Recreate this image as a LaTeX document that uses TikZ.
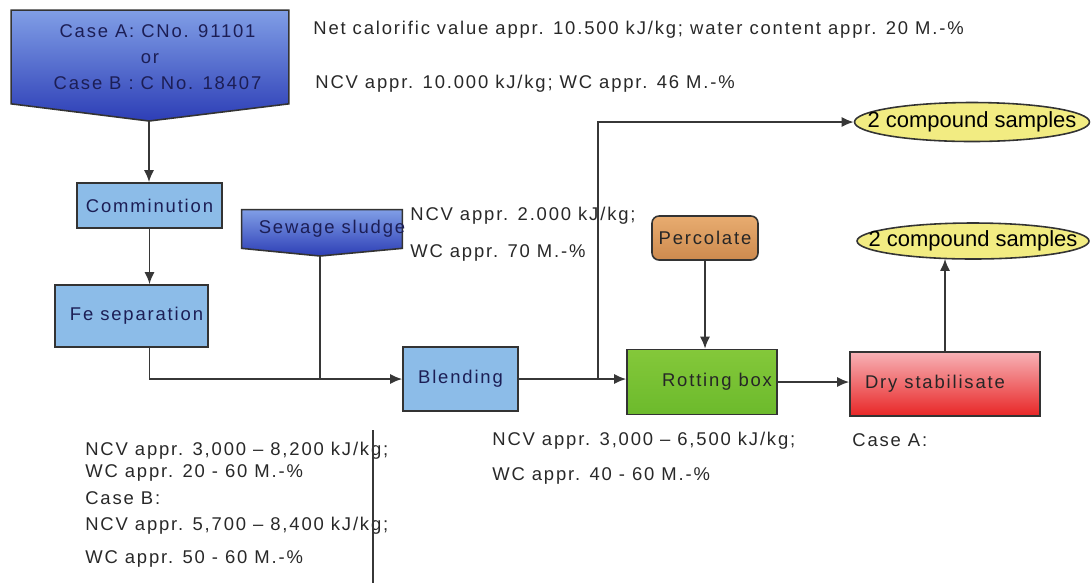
\documentclass[tikz,border=0pt]{standalone}
\usepackage{fontspec}
\setmainfont{Liberation Sans}
\newfontfamily\spacedfont[LetterSpace=10]{Liberation Sans}
\usetikzlibrary{arrows.meta,calc,positioning,shapes.geometric,backgrounds}
\definecolor{bannertop}{RGB}{128,158,230}
\definecolor{bannerbot}{RGB}{45,62,182}
\definecolor{navytext}{RGB}{28,30,85}
\definecolor{procblue}{RGB}{140,188,232}
\definecolor{rottop}{RGB}{132,200,58}
\definecolor{rotbot}{RGB}{108,186,44}
\definecolor{perctop}{RGB}{232,172,112}
\definecolor{percbot}{RGB}{205,138,78}
\definecolor{sampyellow}{RGB}{242,236,130}
\definecolor{drytop}{RGB}{247,178,182}
\definecolor{drybot}{RGB}{232,38,38}
\definecolor{wiregray}{RGB}{55,55,55}
\definecolor{labgray}{RGB}{40,40,40}
\tikzset{
  wire/.style={wiregray, line width=1pt},
  flow/.style={wire, -{Latex[length=2.4mm,width=2mm]}},
  outline/.style={draw=black!80, line width=0.9pt},
  banner/.style={inner sep=2pt, align=center, text=navytext,
                 font=\spacedfont\fontsize{10.5}{15}\selectfont},
  bannerfill/.style={outline, top color=bannertop, bottom color=bannerbot},
  process/.style={outline, fill=procblue, inner sep=2pt, align=center,
                  text=navytext, font=\spacedfont\fontsize{10.5}{13}\selectfont},
  rotbox/.style={process, fill=none, top color=rottop, bottom color=rotbot,
                 text=black!85},
  percbox/.style={process, fill=none, top color=perctop, bottom color=percbot,
                  rounded corners=4pt, text=black!85},
  drybox/.style={process, fill=none, top color=drytop, bottom color=drybot,
                 text=black!85},
  sample/.style={ellipse, outline, fill=sampyellow, inner sep=0pt,
                 font=\fontsize{12.5}{14}\selectfont},
  lab/.style={anchor=west, align=left, inner sep=0pt, text=labgray,
              font=\spacedfont\fontsize{10.5}{15}\selectfont},
}

\begin{document}
\begin{tikzpicture}[x=0.02cm,y=-0.02cm]
  \path[use as bounding box] (0,0) rectangle (1091,583);

  % sources
  \node[banner, minimum width=5.54cm, minimum height=1.86cm] (src) at (150,57)
    {\hspace*{3mm}Case A: CNo. 91101\\or\\\hspace*{3mm}Case B : C No. 18407};
  \coordinate (srctip) at (149,121);
  \node[banner, minimum width=3.2cm, minimum height=0.76cm] (sludge) at (322,229)
    {\makebox[0pt]{\hspace*{4mm}Sewage sludge}};
  \coordinate (sludgetip) at (320,256);
  \begin{scope}[on background layer]
    \path[bannerfill] (src.north west) -- (src.north east) -- (src.south east)
      -- (srctip) -- (src.south west) -- cycle;
    \path[bannerfill] (sludge.north west) -- (sludge.north east) -- (sludge.south east)
      -- (sludgetip) -- (sludge.south west) -- cycle;
  \end{scope}

  % process chain
  \node[process, minimum width=2.9cm, minimum height=0.9cm] (comm) at (149.5,205.5) {Comminution};
  \node[process, minimum width=3.06cm, minimum height=1.24cm] (fesep) at (131.5,316)
    {\hspace*{2mm}Fe separation};
  \node[process, minimum width=2.3cm, minimum height=1.28cm] (blend) at (460.5,379) {Blending};
  \node[rotbox, minimum width=3cm, minimum height=1.3cm] (rot) at (702,382)
    {\hspace*{6mm}Rotting box};
  \node[percbox, minimum width=2.12cm, minimum height=0.88cm] (perc) at (705,238) {Percolate};
  \node[drybox, minimum width=3.8cm, minimum height=1.28cm] (dry) at (945,384)
    {Dry stabilisate\hspace*{4mm}};
  \node[sample, minimum width=4.7cm, minimum height=0.78cm] (samp1) at (972,122)
    {\makebox[0pt]{2 compound samples}};
  \node[sample, minimum width=4.64cm, minimum height=0.72cm] (samp2) at (973,241)
    {\makebox[0pt]{2 compound samples}};

  \draw[flow] (srctip) -- (srctip |- comm.north);
  \draw[flow] (comm.south) -- (comm.south |- fesep.north);
  \draw[flow] (comm.south |- fesep.south) |- (blend.west);
  \draw[wire] (sludgetip) -- (sludgetip |- blend.west);
  \draw[flow] (blend.east) -- (blend.east -| rot.west);
  \coordinate (split) at (598,379);
  \draw[flow] (split) |- (samp1.west);
  \draw[flow] (perc.south) -- (perc.south |- rot.north);
  \draw[flow] (rot.east) -- (rot.east -| dry.west);
  \draw[flow] (dry.north) -- ($(dry.north |- samp2.south)+(0,-1)$);

  % property notes
  \node[lab] (ncvtop) at (313,30)
    {Net calorific value appr. 10.500 kJ/kg; water content appr. 20 M.-\%};
  \node[lab] (ncvb) at (315,84) {NCV appr. 10.000 kJ/kg; WC appr. 46 M.-\%};
  \node[lab] (ncvsludge) at (410,234)
    {NCV appr. 2.000 kJ/kg;\\[6pt]WC appr. 70 M.-\%};
  \node[lab] (ncvrot) at (492,458)
    {NCV appr. 3,000 – 6,500 kJ/kg;\\[5pt]WC appr. 40 - 60 M.-\%};
  \node[lab] (casea) at (852,440) {Case A:};
  \node[lab] (ncvfe) at (85,505)
    {NCV appr. 3,000 – 8,200 kJ/kg;\\[-2.5pt]WC appr. 20 - 60 M.-\%\\
     Case B:\\NCV appr. 5,700 – 8,400 kJ/kg;\\[4pt]WC appr. 50 - 60 M.-\%};
  \coordinate (rulea) at (373,430);
  \coordinate (ruleb) at (373,583);
  \draw[wire] (rulea) -- (ruleb);
\end{tikzpicture}
\end{document}
